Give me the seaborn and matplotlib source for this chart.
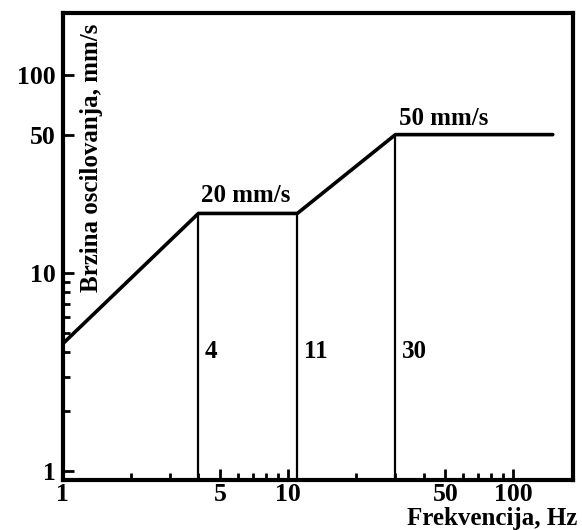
import matplotlib
matplotlib.use("Agg")
import matplotlib.pyplot as plt
import seaborn as sns
import pandas as pd

# data
freq = [1, 4, 11, 30, 150]
speed = [4.4, 20, 20, 50, 50]
break_freq = [4, 11, 30]
break_speed = [20, 20, 50]
break_labels = ["4", "11", "30"]
x_ticks = [1, 5, 10, 50, 100]
x_minor = [2, 3, 4, 6, 7, 8, 9, 20, 30, 40, 60, 70, 80, 90]
y_ticks = [1, 10, 50, 100]
y_minor = [2, 3, 4, 5, 6, 7, 8, 9]

sns.set_style("ticks")
plt.rcParams["font.family"] = ["Liberation Serif", "DejaVu Serif"]
plt.rcParams["font.weight"] = "bold"
plt.rcParams["text.color"] = "black"
plt.rcParams["axes.edgecolor"] = "black"
plt.rcParams["xtick.color"] = "black"
plt.rcParams["ytick.color"] = "black"

df = pd.DataFrame({"freq": freq, "speed": speed})

fig = plt.figure(figsize=(5.82, 5.30), dpi=100)
ax = fig.add_axes([0.108, 0.094, 0.877, 0.881])

sns.lineplot(data=df, x="freq", y="speed", color="black", linewidth=2.6, ax=ax)

ax.set_xscale("log")
ax.set_yscale("log")
ax.set_xlim(1, 185)
ax.set_ylim(0.9, 205)

ymin = ax.get_ylim()[0]
ax.vlines(break_freq, ymin, break_speed, color="black", linewidth=1.6)

fs = 18
# labels next to vertical lines
for f, lab in zip(break_freq, break_labels):
    ax.text(f * 1.07, 4.0, lab, fontsize=fs, fontweight="bold", va="center", ha="left")

ax.text(4.1, 21.5, "20 mm/s", fontsize=fs, fontweight="bold", va="bottom", ha="left")
ax.text(31, 53, "50 mm/s", fontsize=fs, fontweight="bold", va="bottom", ha="left")

ax.set_xticks(x_ticks)
ax.set_xticklabels([str(v) for v in x_ticks])
ax.set_xticks(x_minor, minor=True)
ax.set_xticklabels([], minor=True)
ax.set_yticks(y_ticks)
ax.set_yticklabels([str(v) for v in y_ticks])
ax.set_yticks(y_minor, minor=True)
ax.set_yticklabels([], minor=True)

ax.tick_params(axis="both", which="major", direction="in", length=8, width=2,
               labelsize=18.5, pad=5)
ax.tick_params(axis="x", which="major", pad=2)
ax.tick_params(axis="both", which="minor", direction="in", length=5, width=2)

for s in ax.spines.values():
    s.set_linewidth(3)
    s.set_color("black")
    s.set_visible(True)

ax.set_xlabel("")
ax.set_ylabel("")
ax.text(0.057, 0.978, "Brzina oscilovanja, mm/s", transform=ax.transAxes, rotation=90,
        fontsize=fs, fontweight="bold", va="top", ha="center")
fig.text(0.992, 0.0, "Frekvencija, Hz", fontsize=fs, fontweight="bold",
         ha="right", va="bottom")

fig.savefig("out.png", dpi=100)
